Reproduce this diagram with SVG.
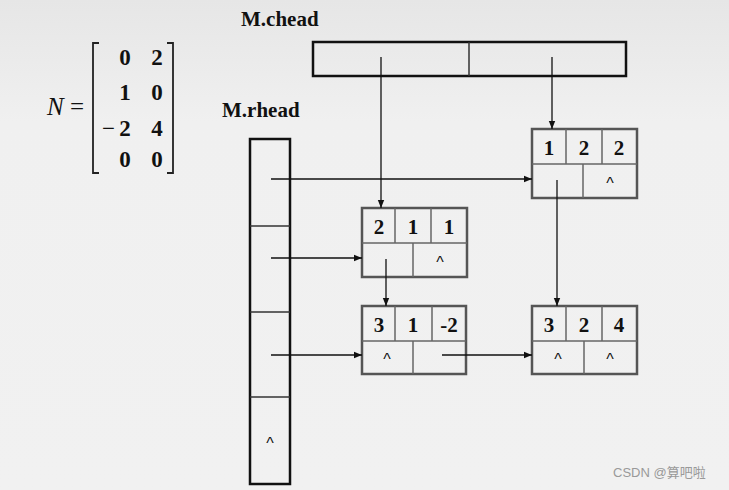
<svg xmlns="http://www.w3.org/2000/svg" width="729" height="490" viewBox="0 0 729 490">
<defs>
<linearGradient id="bg" x1="0" y1="0" x2="0" y2="1">
<stop offset="0" stop-color="#e6e6e6"/>
<stop offset="0.25" stop-color="#f0f0f0"/>
<stop offset="1" stop-color="#f1f1f1"/>
</linearGradient>
<marker id="ah" viewBox="0 0 10 10" refX="10" refY="5" markerWidth="8" markerHeight="8" markerUnits="userSpaceOnUse" orient="auto">
<path d="M0,1 L10,5 L0,9 Z" fill="#111"/>
</marker>
</defs>
<style>
.lbl{font-family:"Liberation Serif",serif;font-weight:bold;font-size:21px;fill:#111}
.num{font-family:"Liberation Serif",serif;font-weight:bold;font-size:21px;fill:#111;text-anchor:middle}
.nil{font-family:"Liberation Sans",sans-serif;font-size:16px;fill:#111;text-anchor:middle}
.box{fill:none;stroke:#111;stroke-width:2.5}
.nout{fill:none;stroke:#555;stroke-width:2.5}
.nin{stroke:#666;stroke-width:1.5;fill:none}
.hin{stroke:#333;stroke-width:1.5;fill:none}
.conn{stroke:#111;stroke-width:1.3;fill:none;marker-end:url(#ah)}
.mat{font-family:"Liberation Serif",serif;font-weight:bold;font-size:23px;fill:#111;text-anchor:middle}
</style>
<rect width="729" height="490" fill="url(#bg)"/>

<g id="matrix">
<text x="47" y="115" font-family="Liberation Serif,serif" font-style="italic" font-size="25" fill="#111">N</text>
<text x="70" y="115" font-family="Liberation Serif,serif" font-size="25" fill="#111">=</text>
<path d="M99,43 L93,43 L93,173 L99,173" fill="none" stroke="#222" stroke-width="1.8"/>
<path d="M167,43 L173,43 L173,173 L167,173" fill="none" stroke="#222" stroke-width="1.8"/>
<text class="mat" x="125" y="65">0</text>
<text class="mat" x="157" y="65">2</text>
<text class="mat" x="125" y="100">1</text>
<text class="mat" x="157" y="100">0</text>
<text x="102" y="136" font-family="Liberation Serif,serif" font-size="23" fill="#111">−</text>
<text class="mat" x="125" y="136">2</text>
<text class="mat" x="157" y="136">4</text>
<text class="mat" x="125" y="167">0</text>
<text class="mat" x="157" y="167">0</text>
</g>

<g id="chead">
<text class="lbl" x="241" y="26">M.chead</text>
<rect class="box" x="313" y="42" width="313" height="34"/>
<line class="hin" x1="469" y1="42" x2="469" y2="76"/>
</g>

<g id="rhead">
<text class="lbl" x="222" y="117">M.rhead</text>
<rect class="box" x="250" y="139" width="40" height="345"/>
<line class="hin" x1="250" y1="226" x2="290" y2="226"/>
<line class="hin" x1="250" y1="312" x2="290" y2="312"/>
<line class="hin" x1="250" y1="397" x2="290" y2="397"/>
<text class="nil" x="270" y="449">^</text>
</g>

<g id="node-1-2-2">
<rect class="nout" x="532" y="129" width="105" height="69"/>
<line class="nin" x1="532" y1="164" x2="637" y2="164"/>
<line class="nin" x1="566" y1="129" x2="566" y2="164"/>
<line class="nin" x1="602" y1="129" x2="602" y2="164"/>
<line class="nin" x1="583" y1="164" x2="583" y2="198"/>
<text class="num" x="549" y="155">1</text>
<text class="num" x="584" y="155">2</text>
<text class="num" x="619" y="155">2</text>
<text class="nil" x="610" y="189">^</text>
</g>

<g id="node-2-1-1">
<rect class="nout" x="362" y="208" width="105" height="69"/>
<line class="nin" x1="362" y1="243" x2="467" y2="243"/>
<line class="nin" x1="395" y1="208" x2="395" y2="243"/>
<line class="nin" x1="431" y1="208" x2="431" y2="243"/>
<line class="nin" x1="413" y1="243" x2="413" y2="277"/>
<text class="num" x="379" y="234">2</text>
<text class="num" x="413" y="234">1</text>
<text class="num" x="449" y="234">1</text>
<text class="nil" x="440" y="268">^</text>
</g>

<g id="node-3-1-m2">
<rect class="nout" x="362" y="306" width="104" height="68"/>
<line class="nin" x1="362" y1="341" x2="466" y2="341"/>
<line class="nin" x1="395" y1="306" x2="395" y2="341"/>
<line class="nin" x1="432" y1="306" x2="432" y2="341"/>
<line class="nin" x1="413" y1="341" x2="413" y2="374"/>
<text class="num" x="379" y="332">3</text>
<text class="num" x="413" y="332">1</text>
<text class="num" x="449" y="332">-2</text>
<text class="nil" x="387" y="365">^</text>
</g>

<g id="node-3-2-4">
<rect class="nout" x="532" y="306" width="105" height="68"/>
<line class="nin" x1="532" y1="341" x2="637" y2="341"/>
<line class="nin" x1="566" y1="306" x2="566" y2="341"/>
<line class="nin" x1="602" y1="306" x2="602" y2="341"/>
<line class="nin" x1="584" y1="341" x2="584" y2="374"/>
<text class="num" x="549" y="332">3</text>
<text class="num" x="584" y="332">2</text>
<text class="num" x="619" y="332">4</text>
<text class="nil" x="558" y="365">^</text>
<text class="nil" x="610" y="365">^</text>
</g>

<g id="connectors">
<line class="conn" x1="381" y1="57" x2="381" y2="208"/>
<line class="conn" x1="552" y1="57" x2="552" y2="129"/>
<line class="conn" x1="271" y1="179" x2="532" y2="179"/>
<line class="conn" x1="271" y1="258" x2="362" y2="258"/>
<line class="conn" x1="271" y1="355" x2="362" y2="355"/>
<line class="conn" x1="386" y1="259" x2="386" y2="306"/>
<line class="conn" x1="557" y1="180" x2="557" y2="306"/>
<line class="conn" x1="442" y1="355" x2="532" y2="355"/>
</g>

<text x="613" y="477" font-family="Liberation Sans,'Noto Sans CJK SC',sans-serif" font-size="13" fill="#999">CSDN @算吧啦</text>
</svg>
